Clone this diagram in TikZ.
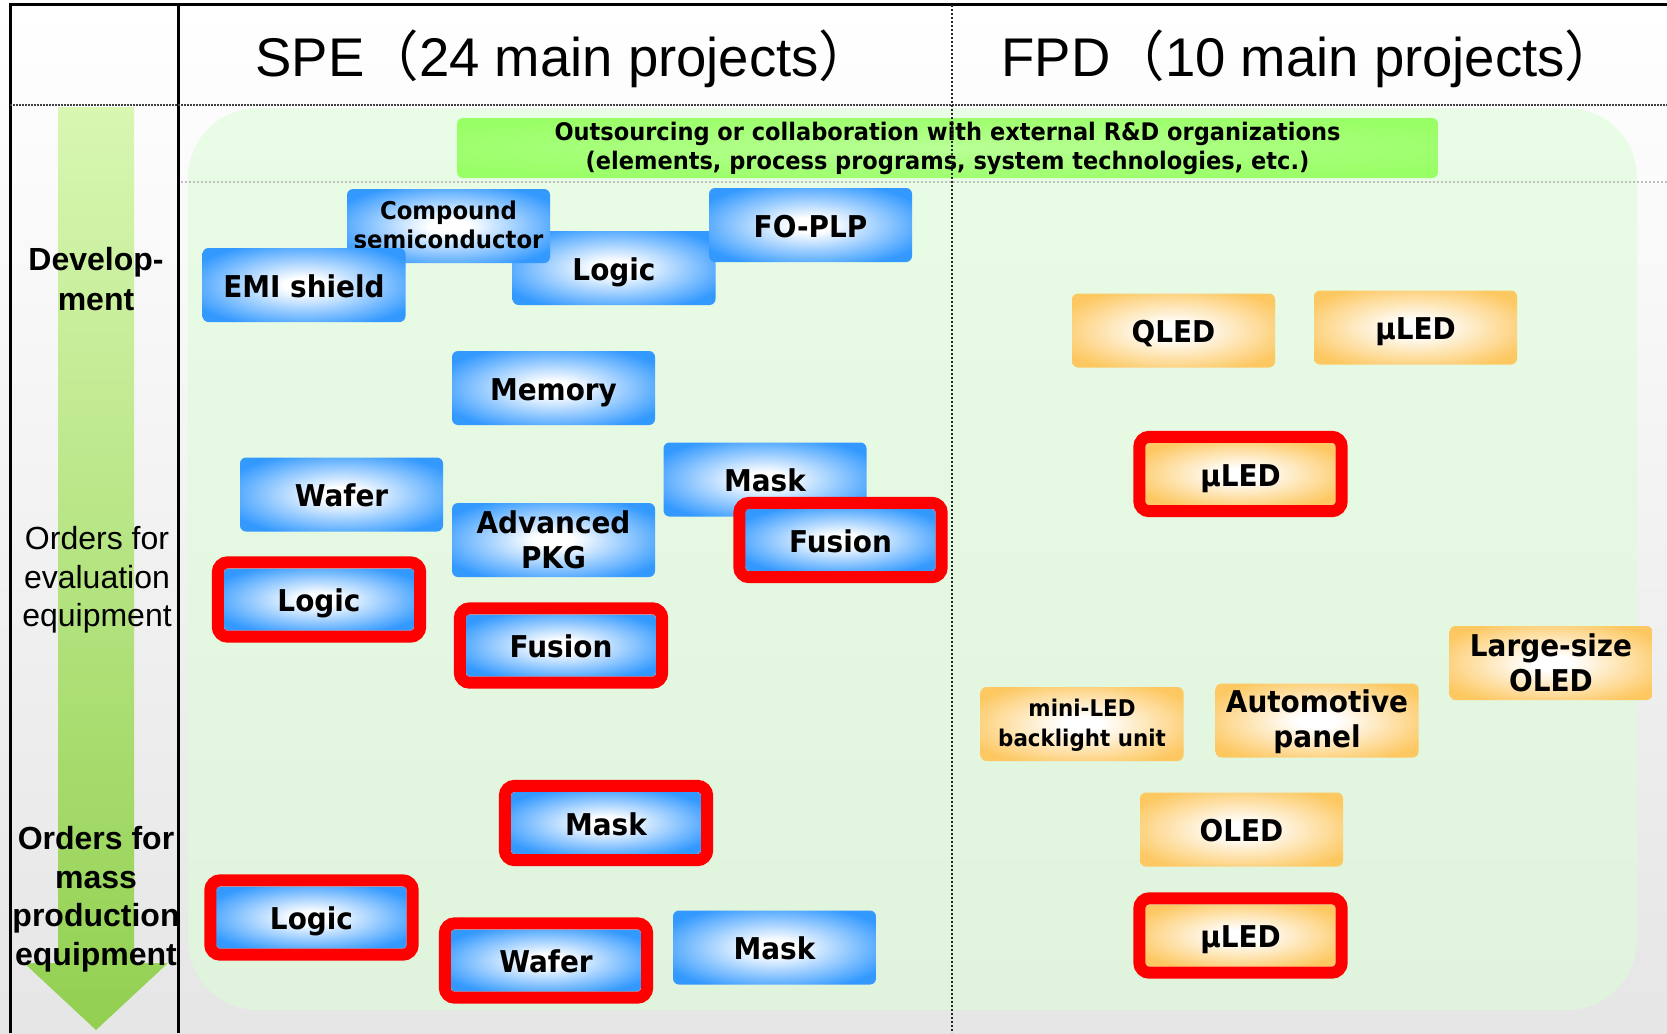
\documentclass[tikz,border=0pt]{standalone}
\usepackage{fontspec}
\setmainfont{Liberation Sans}
\newfontfamily\boxfont[FakeStretch=0.93]{DejaVu Sans}
\newfontfamily\cjk{Noto Sans CJK JP}
\definecolor{bluebox}{RGB}{51,153,255}
\definecolor{orangebox}{RGB}{253,200,98}
\definecolor{barfill}{RGB}{153,255,102}
\definecolor{barlight}{RGB}{185,255,150}
\definecolor{areafill}{RGB}{232,252,230}
\definecolor{areabot}{RGB}{224,243,221}
\definecolor{ringred}{RGB}{255,0,0}
\definecolor{arrowtop}{RGB}{216,247,178}
\definecolor{arrowbot}{RGB}{146,208,80}
\pgfdeclareradialshading{boxblue}{\pgfpoint{0bp}{0bp}}{color(0bp)=(white); color(5bp)=(white); color(30bp)=(bluebox); color(50bp)=(bluebox)}
\pgfdeclareradialshading{boxorange}{\pgfpoint{0bp}{0bp}}{color(0bp)=(white); color(5bp)=(white); color(30bp)=(orangebox); color(50bp)=(orangebox)}
\pgfdeclareradialshading{boxgreen}{\pgfpoint{0bp}{0bp}}{color(0bp)=(barlight); color(30bp)=(barfill); color(50bp)=(barfill)}
\tikzset{
  bbox/.style={shade, shading=boxblue, rounded corners=6pt, minimum width=203pt, minimum height=74pt,
    inner sep=0pt, align=center, text=black, font=\boxfont\bfseries\fontsize{30}{35}\selectfont},
  obox/.style={bbox, shading=boxorange},
  sl/.style={text height=27pt, text depth=3pt},
  rin/.style={minimum width=190pt, minimum height=62pt, rounded corners=4pt},
  ring/.style={draw=ringred, line width=12pt, rounded corners=10pt},
  sidetext/.style={align=center, font=\fontsize{32}{38.5}\selectfont},
  headtext/.style={font=\fontsize{54.5}{62}\selectfont},
}
\begin{document}
\begin{tikzpicture}[x=1pt,y=-1pt]
\useasboundingbox (0,0) rectangle (1667,1033);
% background
\shade[top color=white, middle color=white, bottom color=black!10] (0,0) rectangle (1667,1033);
% green area
\shade[top color=areafill, bottom color=areabot, rounded corners=70pt] (188,108) rectangle (1637,1010);
% arrow in left column
\shade[top color=arrowtop, bottom color=arrowbot] (58,107) -- (134,107) -- (134,963) -- (168,963)
  -- (96,1030) -- (24,963) -- (58,963) -- cycle;
% frame lines
\draw[line width=3pt] (10,1033) -- (10,5) -- (1667,5);
\draw[line width=3pt] (178,5) -- (178,1033);
\draw[line width=2.5pt, black!75, dash pattern=on 1.5pt off 1.5pt] (10,105) -- (1667,105);
\draw[line width=2pt, black!25, dash pattern=on 2pt off 2pt] (181,182) -- (1667,182);
% headers
\node[headtext, anchor=base west] (spe) at (252,77) {SPE{\cjk （}24 main projects{\cjk ）}};
\node[headtext, anchor=base west] (fpd) at (998,77) {FPD{\cjk （}10 main projects{\cjk ）}};
% left column
\node[sidetext, font=\bfseries\fontsize{32}{40}\selectfont] (dev) at (96,279) {Develop-\\ment};
\node[sidetext] (eval) at (97,580) {Orders for\\evaluation\\equipment};
\node[sidetext, font=\bfseries\fontsize{32}{38.5}\selectfont] (mass) at (96,899) {Orders for\\mass\\production\\equipment};
% green bar
\node[shade, shading=boxgreen, rounded corners=6pt, minimum width=981pt, minimum height=60pt, inner sep=0pt,
  align=center, font=\boxfont\bfseries\fontsize{24.2}{29}\selectfont] (bar) at (947.5,148)
  {Outsourcing or collaboration with external R\&D organizations\\(elements, process programs, system technologies, etc.)};
% vertical dotted divider
\draw[line width=2pt, black!85, dash pattern=on 2pt off 2pt] (952,5) -- (952,1033);
% SPE boxes
\node[bbox, sl] (logicA) at (614,268) {Logic};
\node[bbox, font=\boxfont\bfseries\fontsize{24.5}{29}\selectfont, text depth=3pt] (comp) at (448.5,226) {Compound\\semiconductor};
\node[bbox, sl] (emi) at (304,285) {EMI shield};
\node[bbox, sl] (foplp) at (810.5,225) {FO-PLP};
\node[bbox, sl] (memory) at (553.5,388) {Memory};
\node[bbox, sl] (waferA) at (341.5,494.5) {Wafer};
\node[bbox, sl] (maskA) at (765,479.5) {Mask};
\node[bbox] (advpkg) at (553.5,540) {Advanced\\PKG};
\node[bbox, sl] (maskC) at (774.5,947.5) {Mask};
\node[bbox, sl, rin] (fusionA) at (840.5,540) {Fusion};
\node[bbox, sl, rin] (logicB) at (319,599.5) {Logic};
\node[bbox, sl, rin] (fusionB) at (561,645.5) {Fusion};
\node[bbox, sl, rin] (maskB) at (606,823) {Mask};
\node[bbox, sl, rin] (logicC) at (311.5,917.5) {Logic};
\node[bbox, sl, rin] (waferB) at (546,960.5) {Wafer};
% FPD boxes
\node[obox, sl] (qled) at (1173.5,330.5) {QLED};
\node[obox, sl] (uledA) at (1415.5,327.5) {µLED};
\node[obox, sl, rin] (uledB) at (1240.5,474) {µLED};
\node[obox] (large) at (1551,663) {Large-size\\OLED};
\node[obox, font=\boxfont\bfseries\fontsize{23}{30}\selectfont, text depth=2pt] (mini) at (1082,724) {mini-LED\\backlight unit};
\node[obox, text depth=3pt] (auto) at (1317,720.5) {Automotive\\panel};
\node[obox, sl] (oled) at (1241.5,829.5) {OLED};
\node[obox, sl, rin] (uledC) at (1240.5,935.5) {µLED};
% red rings
\foreach \n in {fusionA,logicB,fusionB,maskB,logicC,waferB,uledB,uledC}
  \draw[ring] ([shift={(-6pt,6pt)}]\n.north west) rectangle ([shift={(6pt,-6pt)}]\n.south east);
\end{tikzpicture}
\end{document}
